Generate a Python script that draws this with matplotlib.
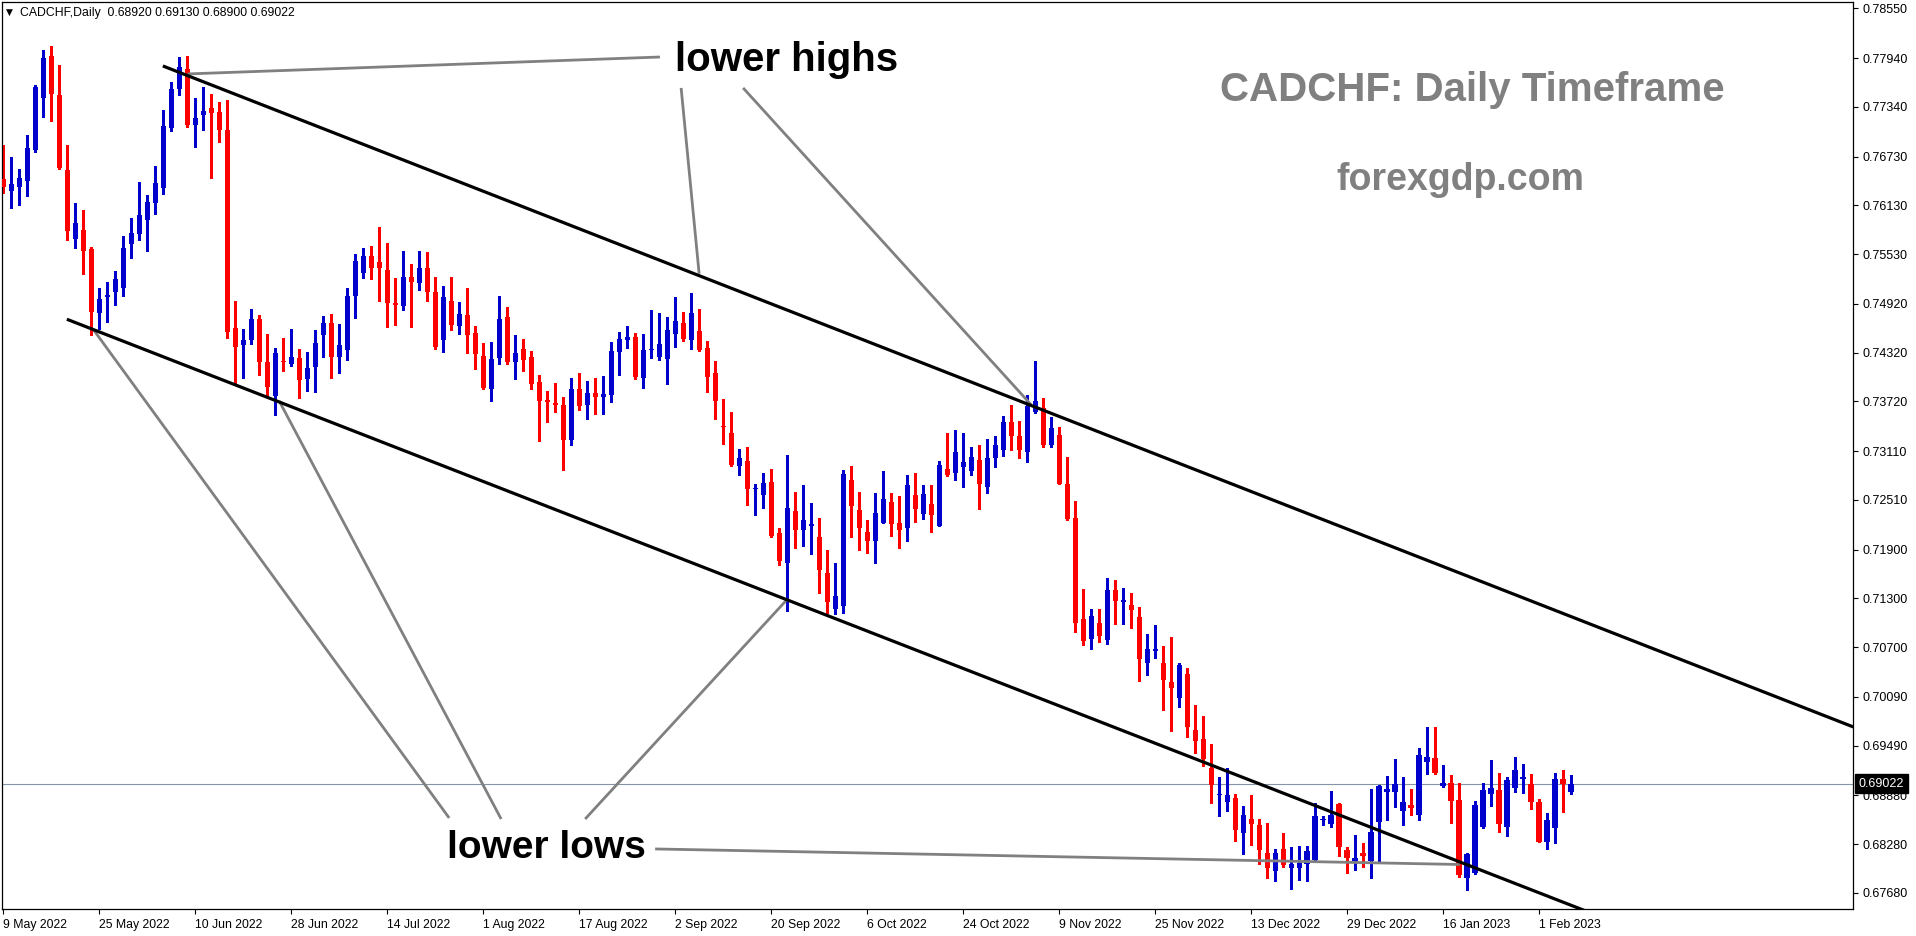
import numpy as np
import pandas as pd
import matplotlib
matplotlib.use("Agg")
import matplotlib.pyplot as plt
from matplotlib import transforms

# ---------------- data ----------------
dates = pd.bdate_range("2022-05-09", periods=197)

opens = [0.7645, 0.7631, 0.7636, 0.7643, 0.7681, 0.7745, 0.7797, 0.7749, 0.7657, 0.7572,
         0.7583, 0.7559, 0.7481, 0.7500, 0.7507, 0.7511, 0.7565, 0.7578, 0.7595, 0.7616,
         0.7634, 0.7708, 0.7756, 0.7781, 0.7712, 0.7724, 0.7733, 0.7728, 0.7706, 0.7462,
         0.7441, 0.7448, 0.7473, 0.7421, 0.7379, 0.7421, 0.7418, 0.7425, 0.7400, 0.7414,
         0.7454, 0.7468, 0.7427, 0.7435, 0.7501, 0.7530, 0.7551, 0.7543, 0.7534, 0.7493,
         0.7489, 0.7525, 0.7517, 0.7536, 0.7507, 0.7447, 0.7496, 0.7465, 0.7478, 0.7456,
         0.7428, 0.7387, 0.7425, 0.7476, 0.7421, 0.7437, 0.7427, 0.7396, 0.7374, 0.7370,
         0.7368, 0.7324, 0.7387, 0.7367, 0.7382, 0.7378, 0.7380, 0.7433, 0.7448, 0.7451,
         0.7401, 0.7435, 0.7427, 0.7424, 0.7455, 0.7468, 0.7447, 0.7459, 0.7438, 0.7407,
         0.7341, 0.7333, 0.7293, 0.7299, 0.7264, 0.7257, 0.7273, 0.7210, 0.7174, 0.7237,
         0.7214, 0.7219, 0.7205, 0.7161, 0.7117, 0.7120, 0.7276, 0.7239, 0.7212, 0.7200,
         0.7223, 0.7249, 0.7223, 0.7216, 0.7257, 0.7234, 0.7246, 0.7219, 0.7289, 0.7284,
         0.7291, 0.7287, 0.7300, 0.7267, 0.7302, 0.7312, 0.7347, 0.7330, 0.7310, 0.7359,
         0.7364, 0.7319, 0.7331, 0.7271, 0.7229, 0.7105, 0.7080, 0.7100, 0.7079, 0.7140,
         0.7125, 0.7122, 0.7107, 0.7051, 0.7065, 0.7051, 0.7027, 0.7007, 0.7037, 0.6968,
         0.6957, 0.6922, 0.6888, 0.6880, 0.6885, 0.6841, 0.6859, 0.6852, 0.6817, 0.6795,
         0.6822, 0.6798, 0.6799, 0.6803, 0.6808, 0.6857, 0.6853, 0.6877, 0.6821, 0.6807,
         0.6817, 0.6807, 0.6855, 0.6892, 0.6892, 0.6869, 0.6876, 0.6864, 0.6929, 0.6934,
         0.6899, 0.6903, 0.6882, 0.6786, 0.6792, 0.6849, 0.6889, 0.6895, 0.6849, 0.6897,
         0.6908, 0.6902, 0.6880, 0.6831, 0.6848, 0.6908, 0.68920]

highs = [0.7687, 0.7673, 0.7658, 0.7700, 0.7761, 0.7804, 0.7809, 0.7786, 0.7687, 0.7616,
         0.7607, 0.7562, 0.7512, 0.7519, 0.7532, 0.7575, 0.7598, 0.7642, 0.7626, 0.7661,
         0.7730, 0.7765, 0.7795, 0.7797, 0.7745, 0.7759, 0.7750, 0.7740, 0.7743, 0.7496,
         0.7461, 0.7486, 0.7478, 0.7455, 0.7438, 0.7450, 0.7461, 0.7437, 0.7433, 0.7460,
         0.7477, 0.7480, 0.7467, 0.7511, 0.7553, 0.7561, 0.7563, 0.7586, 0.7567, 0.7524,
         0.7557, 0.7541, 0.7557, 0.7556, 0.7525, 0.7514, 0.7525, 0.7494, 0.7511, 0.7465,
         0.7444, 0.7445, 0.7502, 0.7488, 0.7454, 0.7449, 0.7434, 0.7405, 0.7385, 0.7395,
         0.7378, 0.7401, 0.7407, 0.7397, 0.7401, 0.7403, 0.7445, 0.7457, 0.7465, 0.7456,
         0.7455, 0.7484, 0.7481, 0.7476, 0.7500, 0.7482, 0.7505, 0.7486, 0.7446, 0.7422,
         0.7375, 0.7359, 0.7314, 0.7316, 0.7271, 0.7284, 0.7289, 0.7217, 0.7306, 0.7261,
         0.7269, 0.7247, 0.7229, 0.7189, 0.7174, 0.7288, 0.7293, 0.7261, 0.7226, 0.7260,
         0.7287, 0.7259, 0.7256, 0.7281, 0.7284, 0.7269, 0.7269, 0.7299, 0.7333, 0.7337,
         0.7333, 0.7316, 0.7319, 0.7326, 0.7329, 0.7354, 0.7368, 0.7348, 0.7380, 0.7422,
         0.7376, 0.7353, 0.7340, 0.7304, 0.7250, 0.7142, 0.7117, 0.7117, 0.7155, 0.7153,
         0.7143, 0.7137, 0.7119, 0.7086, 0.7097, 0.7072, 0.7083, 0.7051, 0.7044, 0.6999,
         0.6986, 0.6951, 0.6910, 0.6921, 0.6889, 0.6875, 0.6888, 0.6859, 0.6854, 0.6822,
         0.6842, 0.6824, 0.6826, 0.6826, 0.6879, 0.6862, 0.6893, 0.6879, 0.6825, 0.6839,
         0.6829, 0.6896, 0.6900, 0.6912, 0.6933, 0.6911, 0.6896, 0.6946, 0.6972, 0.6972,
         0.6925, 0.6913, 0.6903, 0.6817, 0.6881, 0.6903, 0.6931, 0.6915, 0.6911, 0.6935,
         0.6926, 0.6914, 0.6884, 0.6866, 0.6915, 0.6919, 0.69130]

lows = [0.7628, 0.7610, 0.7613, 0.7625, 0.7679, 0.7722, 0.7717, 0.7658, 0.7570, 0.7561,
        0.7528, 0.7454, 0.7461, 0.7470, 0.7490, 0.7502, 0.7548, 0.7570, 0.7557, 0.7602,
        0.7627, 0.7704, 0.7749, 0.7709, 0.7685, 0.7705, 0.7646, 0.7691, 0.7450, 0.7394,
        0.7401, 0.7442, 0.7405, 0.7378, 0.7355, 0.7409, 0.7416, 0.7376, 0.7385, 0.7384,
        0.7426, 0.7401, 0.7407, 0.7423, 0.7475, 0.7524, 0.7522, 0.7495, 0.7463, 0.7466,
        0.7484, 0.7463, 0.7509, 0.7495, 0.7437, 0.7433, 0.7460, 0.7455, 0.7431, 0.7412,
        0.7387, 0.7372, 0.7418, 0.7418, 0.7399, 0.7409, 0.7387, 0.7323, 0.7347, 0.7359,
        0.7288, 0.7319, 0.7361, 0.7351, 0.7356, 0.7357, 0.7371, 0.7404, 0.7438, 0.7400,
        0.7388, 0.7425, 0.7423, 0.7394, 0.7439, 0.7446, 0.7437, 0.7434, 0.7383, 0.7350,
        0.7320, 0.7293, 0.7281, 0.7245, 0.7232, 0.7241, 0.7205, 0.7171, 0.7114, 0.7192,
        0.7194, 0.7185, 0.7137, 0.7112, 0.7111, 0.7112, 0.7206, 0.7189, 0.7186, 0.7173,
        0.7223, 0.7207, 0.7192, 0.7200, 0.7224, 0.7227, 0.7212, 0.7219, 0.7280, 0.7275,
        0.7267, 0.7281, 0.7240, 0.7260, 0.7292, 0.7305, 0.7312, 0.7303, 0.7298, 0.7358,
        0.7316, 0.7316, 0.7270, 0.7226, 0.7089, 0.7073, 0.7068, 0.7076, 0.7074, 0.7099,
        0.7099, 0.7093, 0.7029, 0.7036, 0.7057, 0.6993, 0.6967, 0.6997, 0.6959, 0.6940,
        0.6924, 0.6879, 0.6862, 0.6869, 0.6832, 0.6816, 0.6827, 0.6803, 0.6786, 0.6783,
        0.6800, 0.6773, 0.6784, 0.6783, 0.6807, 0.6851, 0.6849, 0.6813, 0.6793, 0.6796,
        0.6800, 0.6786, 0.6807, 0.6858, 0.6874, 0.6852, 0.6864, 0.6858, 0.6914, 0.6914,
        0.6898, 0.6854, 0.6787, 0.6771, 0.6791, 0.6848, 0.6875, 0.6843, 0.6838, 0.6892,
        0.6891, 0.6871, 0.6830, 0.6822, 0.6829, 0.6868, 0.68900]

closes = [0.7635, 0.7639, 0.7647, 0.7684, 0.7759, 0.7794, 0.7750, 0.7659, 0.7581, 0.7591,
          0.7557, 0.7482, 0.7498, 0.7503, 0.7523, 0.7561, 0.7579, 0.7601, 0.7617, 0.7641,
          0.7711, 0.7756, 0.7783, 0.7712, 0.7720, 0.7729, 0.7727, 0.7705, 0.7457, 0.7439,
          0.7448, 0.7473, 0.7420, 0.7390, 0.7432, 0.7420, 0.7426, 0.7398, 0.7413, 0.7444,
          0.7468, 0.7427, 0.7441, 0.7502, 0.7545, 0.7551, 0.7536, 0.7536, 0.7493, 0.7491,
          0.7525, 0.7519, 0.7536, 0.7507, 0.7439, 0.7500, 0.7466, 0.7480, 0.7454, 0.7430,
          0.7388, 0.7424, 0.7473, 0.7420, 0.7432, 0.7423, 0.7394, 0.7372, 0.7371, 0.7367,
          0.7325, 0.7387, 0.7366, 0.7382, 0.7377, 0.7381, 0.7434, 0.7449, 0.7451, 0.7402,
          0.7435, 0.7437, 0.7443, 0.7460, 0.7471, 0.7449, 0.7481, 0.7435, 0.7402, 0.7373,
          0.7340, 0.7294, 0.7303, 0.7264, 0.7266, 0.7272, 0.7207, 0.7176, 0.7241, 0.7214,
          0.7226, 0.7221, 0.7165, 0.7125, 0.7133, 0.7283, 0.7244, 0.7216, 0.7200, 0.7235,
          0.7252, 0.7221, 0.7214, 0.7269, 0.7240, 0.7258, 0.7233, 0.7294, 0.7282, 0.7310,
          0.7298, 0.7304, 0.7271, 0.7302, 0.7319, 0.7347, 0.7330, 0.7312, 0.7366, 0.7373,
          0.7318, 0.7339, 0.7271, 0.7228, 0.7100, 0.7078, 0.7108, 0.7084, 0.7140, 0.7127,
          0.7128, 0.7116, 0.7056, 0.7068, 0.7068, 0.7030, 0.7020, 0.7048, 0.6972, 0.6955,
          0.6933, 0.6900, 0.6890, 0.6888, 0.6845, 0.6864, 0.6853, 0.6821, 0.6798, 0.6817,
          0.6802, 0.6803, 0.6805, 0.6820, 0.6862, 0.6858, 0.6864, 0.6825, 0.6811, 0.6811,
          0.6813, 0.6843, 0.6899, 0.6896, 0.6902, 0.6880, 0.6872, 0.6938, 0.6935, 0.6915,
          0.6903, 0.6881, 0.6790, 0.6816, 0.6876, 0.6895, 0.6897, 0.6853, 0.6907, 0.6919,
          0.6910, 0.6880, 0.6831, 0.6858, 0.6908, 0.6902, 0.69022]

price_ticks = [0.78550, 0.77940, 0.77340, 0.76730, 0.76130, 0.75530, 0.74920, 0.74320,
               0.73720, 0.73110, 0.72510, 0.71900, 0.71300, 0.70700, 0.70090, 0.69490,
               0.68880, 0.68280, 0.67680]
date_tick_step = 12

# channel trend lines (bar index, price)
upper_channel = [(19.96, 0.77843), (231.3, 0.69719)]
lower_channel = [(7.96, 0.74730), (231.3, 0.66176)]

# grey pointer lines from the labels to the touches (bar index, price)
pointer_lines = [
    [(23.06, 0.77745), (82.1, 0.77953)],
    [(84.75, 0.77573), (87.0, 0.75290)],
    [(92.5, 0.77573), (128.5, 0.73680)],
    [(11.31, 0.74598), (55.75, 0.68601)],
    [(34.5, 0.73726), (62.25, 0.68588)],
    [(97.94, 0.71280), (72.75, 0.68588)],
    [(81.5, 0.68220), (182.1, 0.68029)],
]

header_text = "CADCHF,Daily  0.68920 0.69130 0.68900 0.69022"

# ---------------- figure ----------------
W, H = 1916, 936
fig = plt.figure(figsize=(W / 100, H / 100), dpi=100)
fig.patch.set_facecolor("white")
ax_left, ax_right, ax_top, ax_bottom = 2, 1853, 2, 909
ax = fig.add_axes([ax_left / W, (H - ax_bottom) / H,
                   (ax_right - ax_left) / W, (ax_bottom - ax_top) / H])
ax.set_facecolor("white")

o = np.array(opens); h = np.array(highs); l = np.array(lows); c = np.array(closes)
idx = np.arange(len(o))
up = c >= o
cols = np.where(up, "#0000CC", "#FF0000")

ax.vlines(idx, l, h, colors=cols, linewidth=1.0, antialiased=False, zorder=2)
body_bot = np.minimum(o, c)
body_h = np.maximum(np.abs(c - o), 0.00013)
ax.bar(idx, body_h, bottom=body_bot, width=0.64, color=cols, linewidth=0,
       antialiased=False, zorder=3)

# current price line
ax.axhline(closes[-1], color="#8494a4", linewidth=0.8, zorder=1)

# channel lines
for line in (upper_channel, lower_channel):
    xs, ys = zip(*line)
    ax.plot(xs, ys, color="black", linewidth=2.3, solid_capstyle="butt", zorder=5)

# pointer lines
for line in pointer_lines:
    xs, ys = zip(*line)
    ax.plot(xs, ys, color="#808080", linewidth=2.0, solid_capstyle="butt", zorder=4)

ax.set_xlim(-0.15, 231.25)
ax.set_ylim(0.67482, 0.78629)

# axes styling
for s in ax.spines.values():
    s.set_color("black")
    s.set_linewidth(0.9)

ax.yaxis.tick_right()
ax.set_yticks(price_ticks)
ax.set_yticklabels([f"{v:.5f}" for v in price_ticks])
ax.tick_params(axis="y", direction="out", length=3.5, width=0.8, pad=3,
               labelsize=9, colors="black")

xt = list(range(0, len(dates), date_tick_step))
ax.set_xticks(xt)
ax.set_xticklabels([f"{dates[i].day} {dates[i].strftime('%b %Y')}" for i in xt])
for lab in ax.get_xticklabels():
    lab.set_horizontalalignment("left")
ax.tick_params(axis="x", direction="out", length=3.5, width=0.8, pad=4,
               labelsize=8.8, colors="black")
for lab in ax.get_xticklabels() + ax.get_yticklabels():
    lab.set_fontfamily("Liberation Sans")

# last price box
trans = transforms.blended_transform_factory(ax.transAxes, ax.transData)
ax.text(1.0032, closes[-1], f"{closes[-1]:.5f}", transform=trans, color="white",
        fontsize=9, family="Liberation Sans", va="center", ha="left", clip_on=False,
        bbox=dict(boxstyle="square,pad=0.3", fc="black", ec="black"), zorder=10)

# header
ax.text(0.0041, 0.9882, "\u25BC", transform=ax.transAxes, fontsize=6.5,
        family="DejaVu Sans", va="center", ha="center", color="black")
ax.text(0.0095, 0.9882, header_text, transform=ax.transAxes, fontsize=8.8,
        family="Liberation Sans", va="center", ha="left", color="black")

# annotation labels
ax.text(0.4236, 0.936, "lower highs", transform=ax.transAxes, fontsize=29,
        family="Liberation Sans", weight="bold", va="center", ha="center", color="black")
ax.text(0.2939, 0.0673, "lower lows", transform=ax.transAxes, fontsize=28,
        family="Liberation Sans", weight="bold", va="center", ha="center", color="black")
ax.text(0.7942, 0.903, "CADCHF: Daily Timeframe", transform=ax.transAxes, fontsize=29,
        family="Liberation Sans", weight="bold", va="center", ha="center", color="#808080")
ax.text(0.7877, 0.8038, "forexgdp.com", transform=ax.transAxes, fontsize=27,
        family="Liberation Sans", weight="bold", va="center", ha="center", color="#808080")

fig.savefig("out.png", dpi=100, facecolor="white")
